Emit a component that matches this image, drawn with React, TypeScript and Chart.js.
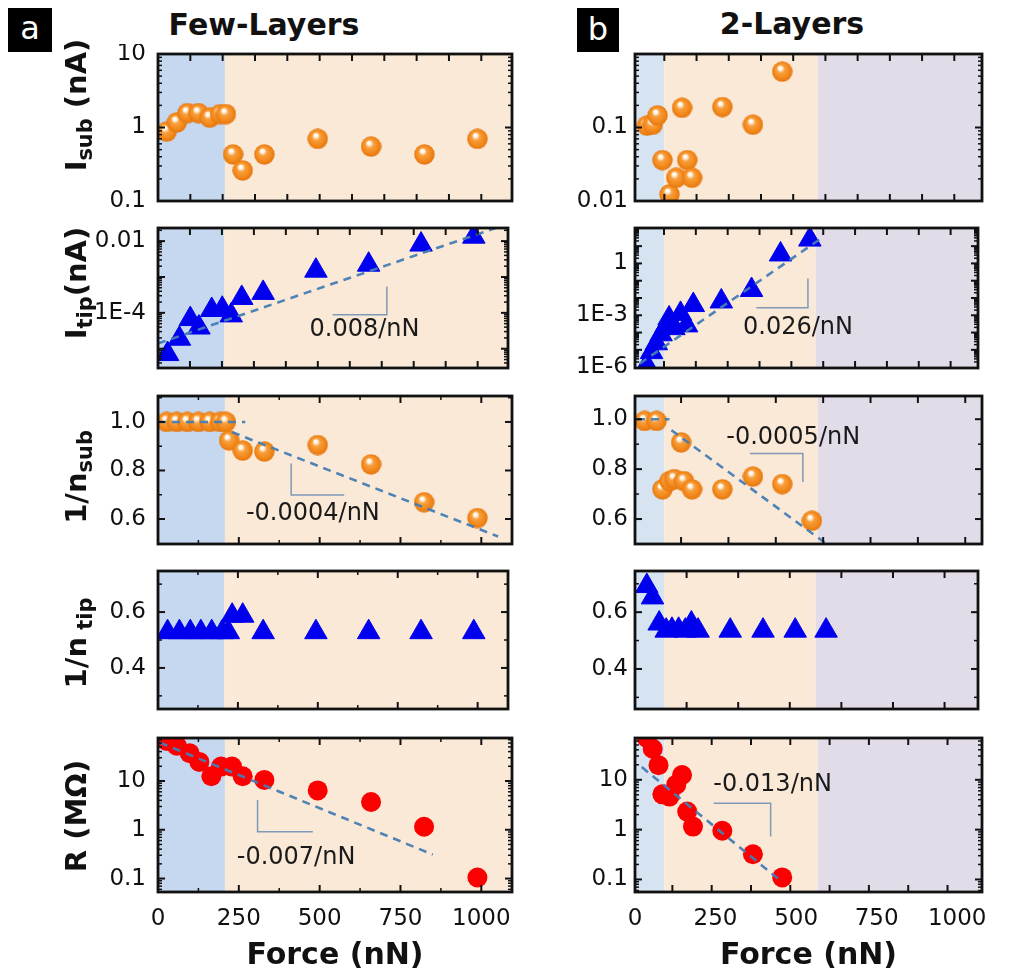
import React, { useEffect, useRef } from 'react';
import { Chart, registerables } from 'chart.js';
Chart.register(...registerables);

const FONT = "'DejaVu Sans', 'Liberation Sans', sans-serif";

// ---------------- data: column a (Few-Layers) ----------------
const aIsubForce = [27, 58, 91, 125, 160, 192, 210, 232, 262, 329, 494, 659, 824, 988];
const aIsubValue = [0.88, 1.17, 1.57, 1.57, 1.36, 1.52, 1.52, 0.43, 0.26, 0.43, 0.7, 0.55, 0.43, 0.7];

const aItipForce = [30, 67, 101, 128, 168, 201, 229, 262, 329, 494, 659, 823, 988];
const aItipValue = [7.1e-6, 1.9e-5, 6.7e-5, 3.9e-5, 1.2e-4, 1.3e-4, 8.5e-5, 2.6e-4, 3.6e-4, 1.5e-3, 2.2e-3, 8e-3, 0.0133];
const aItipFitForce = [0, 1064];
const aItipFitValue = [1.4e-5, 0.0245];
const aItipSlopeForce = [546, 716, 716];
const aItipSlopeValue = [8.9e-5, 8.9e-5, 5.4e-4];
const aItipNote = { text: '0.008/nN', x: 646, y: 3.3e-5 };

const aNsubForce = [27, 58, 91, 125, 160, 192, 210, 220, 262, 329, 494, 659, 823, 988];
const aNsubValue = [1, 1, 1, 1, 1, 1, 1, 0.924, 0.882, 0.878, 0.905, 0.825, 0.669, 0.604];
const aNsubFlatForce = [0, 270];
const aNsubFlatValue = [1, 1];
const aNsubFitForce = [229, 1052];
const aNsubFitValue = [0.958, 0.528];
const aNsubSlopeForce = [412, 412, 576];
const aNsubSlopeValue = [0.829, 0.699, 0.699];
const aNsubNote = { text: '-0.0004/nN', x: 479, y: 0.623 };

const aNtipForce = [30, 67, 101, 134, 168, 201, 220, 232, 265, 329, 494, 659, 823, 988];
const aNtipValue = [0.528, 0.528, 0.528, 0.528, 0.528, 0.528, 0.528, 0.587, 0.587, 0.528, 0.528, 0.528, 0.528, 0.528];

const aRForce = [27, 58, 98, 128, 165, 195, 229, 262, 329, 494, 659, 823, 988];
const aRValue = [66, 53, 37, 24.6, 12.5, 19.7, 19.7, 12.5, 10.5, 6.4, 3.7, 1.15, 0.105];
const aRFitForce = [6, 850];
const aRFitValue = [61, 0.31];
const aRSlopeForce = [308, 308, 479];
const aRSlopeValue = [4.06, 0.91, 0.91];
const aRNote = { text: '-0.007/nN', x: 427, y: 0.27 };

// ---------------- data: column b (2-Layers) ----------------
const bIsubForce = [37, 55, 70, 85, 107, 128, 146, 162, 177, 271, 366, 457];
const bIsubValue = [0.106, 0.109, 0.146, 0.036, 0.0123, 0.0207, 0.185, 0.036, 0.0207, 0.19, 0.109, 0.575];

const bItipForce = [37, 52, 67, 82, 98, 107, 122, 143, 162, 183, 271, 366, 457, 549];
const bItipValue = [1.3e-6, 7.4e-6, 2.4e-5, 7.9e-5, 2.6e-4, 6.6e-4, 1.8e-4, 1.2e-3, 2.6e-4, 3.9e-3, 6.3e-3, 0.029, 3.3, 24];
const bItipFitForce = [15, 579];
const bItipFitValue = [1.6e-6, 24];
const bItipSlopeForce = [381, 543, 543];
const bItipSlopeValue = [2.7e-3, 2.7e-3, 0.134];
const bItipNote = { text: '0.026/nN', x: 512, y: 2e-4 };

const bNsubForce = [30, 67, 85, 107, 122, 143, 152, 177, 271, 366, 457, 549];
const bNsubValue = [0.993, 0.993, 0.719, 0.752, 0.76, 0.907, 0.752, 0.719, 0.719, 0.77, 0.74, 0.593];
const bNsubFlatForce = [6, 107];
const bNsubFlatValue = [1, 1];
const bNsubFitForce = [113, 595];
const bNsubFitValue = [0.956, 0.5];
const bNsubSlopeForce = [357, 521, 521];
const bNsubSlopeValue = [0.863, 0.863, 0.748];
const bNsubNote = { text: '-0.0005/nN', x: 491, y: 0.926 };

const bNtipForce = [37, 55, 76, 98, 116, 137, 158, 177, 198, 299, 402, 503, 600];
const bNtipValue = [0.692, 0.652, 0.56, 0.535, 0.538, 0.538, 0.535, 0.56, 0.535, 0.535, 0.535, 0.535, 0.535];

const bRForce = [37, 55, 73, 85, 107, 128, 146, 162, 180, 271, 366, 457];
const bRValue = [69, 42, 19.7, 5.1, 4.6, 8, 12.5, 2.3, 1.15, 0.95, 0.32, 0.11];
const bRFitForce = [21, 451];
const bRFitValue = [18, 0.095];
const bRSlopeForce = [244, 421, 421];
const bRSlopeValue = [3.4, 3.4, 0.73];
const bRNote = { text: '-0.013/nN', x: 427, y: 8.0 };

// ---------------- axis tick labels ----------------
const forceTickValues = [0, 250, 500, 750, 1000];
const forceTickLabels = ['0', '250', '500', '750', '1000'];

// regions (nN)
const colARegionEdges = [0, 207, 2000];
const colBRegionEdges = [0, 91, 567, 2000];

// ---------------- layout / style ----------------
const COL_LEFT = [158, 635];
const COL_RIGHT = [518, 988];
const ROW_TOP = [48, 218, 390, 561, 732];
const ROW_BOTTOM = [207, 378, 550, 719, 892];
const X_MAX = [1095, 1077];
const REGION_COLORS = [
  ['#c5d8ef', '#fbe9d7'],
  ['#d6e4f2', '#fbe9d7', '#e2dce9'],
];
const REGION_EDGES = [colARegionEdges, colBRegionEdges];

type Kind = 'sphere' | 'triangle' | 'dot' | 'fit' | 'bracket';
type Series = { x: number[]; y: number[]; kind: Kind };
type Note = { text: string; x: number; y: number };
type PanelCfg = {
  col: number;
  row: number;
  yType: 'logarithmic' | 'linear';
  yMin: number;
  yMax: number;
  yVals: number[];
  yText: string[];
  xTickStart: number;
  xTickStep: number;
  xMajorMod: number;
  series: Series[];
  note?: Note;
};

const PANELS: PanelCfg[] = [
  { col: 0, row: 0, yType: 'logarithmic', yMin: 0.1, yMax: 10, yVals: [0.1, 1, 10], yText: ['0.1', '1', '10'],
    xTickStart: 100, xTickStep: 100, xMajorMod: 100,
    series: [{ x: aIsubForce, y: aIsubValue, kind: 'sphere' }] },
  { col: 0, row: 1, yType: 'logarithmic', yMin: 2.9e-6, yMax: 0.0232, yVals: [1e-4, 0.01], yText: ['1E-4', '0.01'],
    xTickStart: 100, xTickStep: 100, xMajorMod: 100,
    series: [
      { x: aItipForce, y: aItipValue, kind: 'triangle' },
      { x: aItipFitForce, y: aItipFitValue, kind: 'fit' },
      { x: aItipSlopeForce, y: aItipSlopeValue, kind: 'bracket' },
    ], note: aItipNote },
  { col: 0, row: 2, yType: 'linear', yMin: 0.497, yMax: 1.107, yVals: [0.6, 0.8, 1.0], yText: ['0.6', '0.8', '1.0'],
    xTickStart: 125, xTickStep: 125, xMajorMod: 250,
    series: [
      { x: aNsubForce, y: aNsubValue, kind: 'sphere' },
      { x: aNsubFlatForce, y: aNsubFlatValue, kind: 'fit' },
      { x: aNsubFitForce, y: aNsubFitValue, kind: 'fit' },
      { x: aNsubSlopeForce, y: aNsubSlopeValue, kind: 'bracket' },
    ], note: aNsubNote },
  { col: 0, row: 3, yType: 'linear', yMin: 0.253, yMax: 0.747, yVals: [0.4, 0.6], yText: ['0.4', '0.6'],
    xTickStart: 125, xTickStep: 125, xMajorMod: 250,
    series: [{ x: aNtipForce, y: aNtipValue, kind: 'triangle' }] },
  { col: 0, row: 4, yType: 'logarithmic', yMin: 0.053, yMax: 76, yVals: [0.1, 1, 10], yText: ['0.1', '1', '10'],
    xTickStart: 125, xTickStep: 125, xMajorMod: 250,
    series: [
      { x: aRForce, y: aRValue, kind: 'dot' },
      { x: aRFitForce, y: aRFitValue, kind: 'fit' },
      { x: aRSlopeForce, y: aRSlopeValue, kind: 'bracket' },
    ], note: aRNote },
  { col: 1, row: 0, yType: 'logarithmic', yMin: 0.01, yMax: 1, yVals: [0.01, 0.1], yText: ['0.01', '0.1'],
    xTickStart: 91, xTickStep: 100, xMajorMod: 1,
    series: [{ x: bIsubForce, y: bIsubValue, kind: 'sphere' }] },
  { col: 1, row: 1, yType: 'logarithmic', yMin: 8.9e-7, yMax: 112, yVals: [1e-6, 1e-3, 1], yText: ['1E-6', '1E-3', '1'],
    xTickStart: 91, xTickStep: 100, xMajorMod: 1,
    series: [
      { x: bItipForce, y: bItipValue, kind: 'triangle' },
      { x: bItipFitForce, y: bItipFitValue, kind: 'fit' },
      { x: bItipSlopeForce, y: bItipSlopeValue, kind: 'bracket' },
    ], note: bItipNote },
  { col: 1, row: 2, yType: 'linear', yMin: 0.5, yMax: 1.093, yVals: [0.6, 0.8, 1.0], yText: ['0.6', '0.8', '1.0'],
    xTickStart: 143, xTickStep: 147, xMajorMod: 1,
    series: [
      { x: bNsubForce, y: bNsubValue, kind: 'sphere' },
      { x: bNsubFlatForce, y: bNsubFlatValue, kind: 'fit' },
      { x: bNsubFitForce, y: bNsubFitValue, kind: 'fit' },
      { x: bNsubSlopeForce, y: bNsubSlopeValue, kind: 'bracket' },
    ], note: bNsubNote },
  { col: 1, row: 3, yType: 'linear', yMin: 0.259, yMax: 0.745, yVals: [0.4, 0.6], yText: ['0.4', '0.6'],
    xTickStart: 162, xTickStep: 162, xMajorMod: 1,
    series: [{ x: bNtipForce, y: bNtipValue, kind: 'triangle' }] },
  { col: 1, row: 4, yType: 'logarithmic', yMin: 0.056, yMax: 69, yVals: [0.1, 1, 10], yText: ['0.1', '1', '10'],
    xTickStart: 116, xTickStep: 122, xMajorMod: 1,
    series: [
      { x: bRForce, y: bRValue, kind: 'dot' },
      { x: bRFitForce, y: bRFitValue, kind: 'fit' },
      { x: bRSlopeForce, y: bRSlopeValue, kind: 'bracket' },
    ], note: bRNote },
];

let sphereCache: HTMLCanvasElement | null = null;
function sphere(): HTMLCanvasElement {
  if (sphereCache) return sphereCache;
  const d = 21;
  const c = document.createElement('canvas');
  c.width = d;
  c.height = d;
  const g = c.getContext('2d')!;
  const r = d / 2;
  const grad = g.createRadialGradient(r * 0.78, r * 0.62, 0.5, r, r, r);
  grad.addColorStop(0, '#ffffff');
  grad.addColorStop(0.16, '#fff0dc');
  grad.addColorStop(0.34, '#f8a040');
  grad.addColorStop(0.7, '#f38a1c');
  grad.addColorStop(1, '#e47510');
  g.fillStyle = grad;
  g.beginPath();
  g.arc(r, r, r - 0.3, 0, Math.PI * 2);
  g.fill();
  sphereCache = c;
  return c;
}

function yTickList(cfg: PanelCfg) {
  const out: { v: number; major: boolean }[] = [];
  if (cfg.yType === 'logarithmic') {
    const d0 = Math.floor(Math.log10(cfg.yMin));
    const d1 = Math.ceil(Math.log10(cfg.yMax));
    for (let d = d0; d <= d1; d++) {
      for (let k = 1; k <= 9; k++) {
        const v = k * Math.pow(10, d);
        if (v >= cfg.yMin && v <= cfg.yMax) out.push({ v, major: k === 1 });
      }
    }
  } else {
    const s = Math.ceil(cfg.yMin * 10 - 1e-6);
    const e = Math.floor(cfg.yMax * 10 + 1e-6);
    for (let i = s; i <= e; i++) {
      const v = i / 10;
      out.push({ v, major: cfg.yVals.some((t) => Math.abs(t - v) < 1e-6) });
    }
  }
  return out;
}

function makeDecor(cfg: PanelCfg) {
  const edges = REGION_EDGES[cfg.col];
  const colors = REGION_COLORS[cfg.col];
  return {
    id: 'decor',
    beforeDatasetsDraw(chart: any) {
      const { ctx, chartArea: a } = chart;
      const xs = chart.scales.x;
      ctx.save();
      for (let i = 0; i < colors.length; i++) {
        const x0 = Math.max(a.left, xs.getPixelForValue(edges[i]));
        const x1 = Math.min(a.right, xs.getPixelForValue(edges[i + 1]));
        if (x1 > x0) {
          ctx.fillStyle = colors[i];
          ctx.fillRect(x0, a.top, x1 - x0, a.bottom - a.top);
        }
      }
      ctx.restore();
    },
    afterDatasetsDraw(chart: any) {
      const { ctx, chartArea: a } = chart;
      const xs = chart.scales.x;
      const ys = chart.scales.y;
      ctx.save();
      if (cfg.note) {
        ctx.font = `24px ${FONT}`;
        ctx.fillStyle = '#1a1a1a';
        ctx.textAlign = 'center';
        ctx.textBaseline = 'middle';
        ctx.fillText(cfg.note.text, xs.getPixelForValue(cfg.note.x), ys.getPixelForValue(cfg.note.y));
      }
      ctx.strokeStyle = '#111';
      const seg = (x0: number, y0: number, x1: number, y1: number) => {
        ctx.beginPath();
        ctx.moveTo(x0, y0);
        ctx.lineTo(x1, y1);
        ctx.stroke();
      };
      for (const t of yTickList(cfg)) {
        const py = ys.getPixelForValue(t.v);
        if (py < a.top + 1 || py > a.bottom - 1) continue;
        const len = t.major ? 7 : 4;
        ctx.lineWidth = t.major ? 2 : 1.5;
        seg(a.left, py, a.left + len, py);
        seg(a.right, py, a.right - len, py);
      }
      const xMax = X_MAX[cfg.col];
      for (let v = cfg.xTickStart; v < xMax; v += cfg.xTickStep) {
        const px = xs.getPixelForValue(v);
        const major = Math.round(v) % cfg.xMajorMod === 0;
        const len = major ? 7 : 4;
        ctx.lineWidth = major ? 2 : 1.5;
        seg(px, a.top, px, a.top + len);
        seg(px, a.bottom, px, a.bottom - len);
      }
      ctx.lineWidth = 2.8;
      ctx.strokeRect(a.left, a.top, a.right - a.left, a.bottom - a.top);
      ctx.restore();
    },
  };
}

function datasetFor(s: Series) {
  const data = s.x.map((x, i) => ({ x, y: s.y[i] }));
  const base: any = { data, clip: 0 };
  if (s.kind === 'sphere') {
    return { ...base, order: 2, showLine: false, pointStyle: sphere(), pointRadius: 10, backgroundColor: '#f38a1c', borderWidth: 0 };
  }
  if (s.kind === 'triangle') {
    return { ...base, order: 2, showLine: false, pointStyle: 'triangle', pointRadius: 13, backgroundColor: '#0000ee', borderColor: '#0000ee', borderWidth: 1 };
  }
  if (s.kind === 'dot') {
    return { ...base, order: 2, showLine: false, pointStyle: 'circle', pointRadius: 10, backgroundColor: '#fb0000', borderColor: '#fb0000', borderWidth: 0 };
  }
  if (s.kind === 'fit') {
    return { ...base, order: 0, showLine: true, fill: false, pointRadius: 0, borderColor: 'rgba(70,125,180,0.95)', borderWidth: 2.6, borderDash: [8, 6] };
  }
  return { ...base, order: 1, showLine: true, fill: false, pointRadius: 0, borderColor: 'rgba(120,150,182,0.95)', borderWidth: 1.5 };
}

const YW = 70;
const PAD = 4;
const XH = 81;

function Panel({ cfg }: { cfg: PanelCfg }) {
  const ref = useRef<HTMLCanvasElement>(null);
  const isBottom = cfg.row === 4;
  const plotL = COL_LEFT[cfg.col];
  const plotR = COL_RIGHT[cfg.col];
  const top = ROW_TOP[cfg.row];
  const bottom = ROW_BOTTOM[cfg.row];
  const left = plotL - YW;
  const width = plotR - left + PAD;
  const canvasTop = top - PAD;
  const height = bottom - top + PAD + (isBottom ? XH : PAD);

  useEffect(() => {
    if (!ref.current) return;
    const match = (v: number) => cfg.yVals.findIndex((t) => Math.abs(t - v) <= 1e-9 + 1e-6 * Math.abs(t));
    const chart = new Chart(ref.current, {
      type: 'scatter',
      data: { datasets: cfg.series.map(datasetFor) as any },
      plugins: [makeDecor(cfg) as any],
      options: {
        animation: false,
        responsive: false,
        maintainAspectRatio: false,
        events: [],
        layout: { padding: { left: 0, top: PAD, right: PAD, bottom: isBottom ? 0 : PAD } },
        plugins: { legend: { display: false }, tooltip: { enabled: false }, title: { display: false } },
        scales: {
          x: {
            type: 'linear',
            min: 0,
            max: X_MAX[cfg.col],
            display: isBottom,
            grid: { display: false, drawTicks: false },
            border: { display: false },
            afterBuildTicks: (s: any) => {
              s.ticks = forceTickValues.map((v) => ({ value: v }));
            },
            afterFit: (s: any) => {
              if (isBottom) s.height = XH;
              s.paddingLeft = 0;
              s.paddingRight = 0;
              s.paddingTop = 0;
              s.paddingBottom = 0;
            },
            ticks: {
              autoSkip: false,
              maxRotation: 0,
              padding: 13,
              color: '#111',
              font: { family: FONT, size: 23 },
              callback: (v: any) => {
                const i = forceTickValues.indexOf(Number(v));
                return i >= 0 ? forceTickLabels[i] : '';
              },
            },
            title: {
              display: true,
              text: 'Force (nN)',
              color: '#111',
              font: { family: FONT, size: 30, weight: 'bold' },
              padding: { top: 0, bottom: -1 },
            },
          },
          y: {
            type: cfg.yType,
            min: cfg.yMin,
            max: cfg.yMax,
            grid: { display: false, drawTicks: false },
            border: { display: false },
            afterBuildTicks: (s: any) => {
              s.ticks = cfg.yVals.map((v) => ({ value: v }));
            },
            afterFit: (s: any) => {
              s.width = YW;
              s.paddingLeft = 0;
              s.paddingRight = 0;
              s.paddingTop = 0;
              s.paddingBottom = 0;
            },
            ticks: {
              autoSkip: false,
              padding: cfg.col === 0 ? 12 : 7,
              color: '#111',
              font: { family: FONT, size: 23 },
              callback: (v: any) => {
                const i = match(Number(v));
                return i >= 0 ? cfg.yText[i] : '';
              },
            },
          },
        } as any,
      },
    });
    return () => chart.destroy();
  }, []);

  return (
    <canvas
      ref={ref}
      width={width}
      height={height}
      style={{ position: 'absolute', left, top: canvasTop, width, height }}
    />
  );
}

const subStyle: React.CSSProperties = { fontSize: '0.72em', verticalAlign: '-0.3em', lineHeight: 0 };

const Y_TITLES: { cy: number; node: React.ReactNode }[] = [
  { cy: 105, node: <>I<sub style={subStyle}>sub</sub> (nA)</> },
  { cy: 283, node: <>I<sub style={subStyle}>tip</sub>(nA)</> },
  { cy: 477, node: <>1/n<sub style={subStyle}>sub</sub></> },
  { cy: 643, node: <>1/n<sub style={subStyle}> tip</sub></> },
  { cy: 816, node: <>R (MΩ)</> },
];

export default function App() {
  return (
    <div
      style={{
        position: 'absolute',
        left: 0,
        top: 0,
        width: 1024,
        height: 974,
        background: '#fff',
        fontFamily: FONT,
        color: '#111',
        overflow: 'hidden',
      }}
    >
      {PANELS.map((p, i) => (
        <Panel key={i} cfg={p} />
      ))}
      <div style={{ position: 'absolute', left: 8, top: 8, width: 44, height: 44, background: '#000', color: '#fff', fontSize: 32, lineHeight: '40px', textAlign: 'center' }}>a</div>
      <div style={{ position: 'absolute', left: 577, top: 8, width: 42, height: 44, background: '#000', color: '#fff', fontSize: 32, lineHeight: '42px', textAlign: 'center' }}>b</div>
      <div style={{ position: 'absolute', left: 264, top: 25, transform: 'translate(-50%,-50%)', fontWeight: 'bold', fontSize: 30, whiteSpace: 'nowrap', lineHeight: 1 }}>Few-Layers</div>
      <div style={{ position: 'absolute', left: 792, top: 24, transform: 'translate(-50%,-50%)', fontWeight: 'bold', fontSize: 30, whiteSpace: 'nowrap', lineHeight: 1 }}>2-Layers</div>
      {Y_TITLES.map((t, i) => (
        <div
          key={i}
          style={{
            position: 'absolute',
            left: 76,
            top: t.cy,
            transform: 'translate(-50%,-50%) rotate(-90deg)',
            fontWeight: 'bold',
            fontSize: 29,
            whiteSpace: 'nowrap',
            lineHeight: 1,
          }}
        >
          {t.node}
        </div>
      ))}
    </div>
  );
}
